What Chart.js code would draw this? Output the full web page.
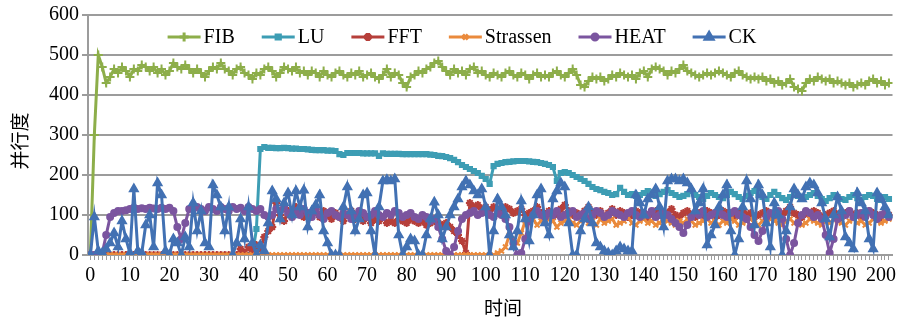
<!DOCTYPE html>
<html lang="zh">
<head>
  <meta charset="UTF-8" />
  <title>并行度</title>
  <script src="https://cdn.jsdelivr.net/npm/chart.js"></script>
  <style>
    html, body { margin: 0; padding: 0; background: #fff; }
    #chartBox { width: 899px; height: 321px; }
  </style>
</head>
<body>
  <div id="chartBox"><canvas id="parChart" width="899" height="321"></canvas></div>

  <script>
    // ==== DATA ====
    const seriesNames = ['FIB', 'LU', 'FFT', 'Strassen', 'HEAT', 'CK'];
    const timeTicks = [0, 10, 20, 30, 40, 50, 60, 70, 80, 90, 100, 110, 120, 130, 140, 150, 160, 170, 180, 190, 200];
    const valueTicks = [0, 100, 200, 300, 400, 500, 600];
    const xTitle = '时间';
    const yTitle = '并行度';

    const fib = [
      0, 300, 500, 470, 430, 445, 465, 455, 470, 460,
      445, 465, 460, 475, 470, 460, 470, 455, 465, 450,
      460, 480, 470, 465, 475, 465, 455, 465, 455, 445,
      460, 470, 465, 480, 465, 460, 450, 465, 470, 455,
      450, 440, 455, 450, 465, 470, 460, 445, 455, 470,
      465, 460, 470, 455, 460, 450, 460, 455, 445, 460,
      450, 445, 455, 460, 450, 445, 455, 450, 460, 445,
      450, 455, 445, 440, 450, 465, 445, 455, 450, 430,
      420, 445, 450, 460, 455, 465, 470, 480, 485, 470,
      460, 450, 465, 455, 460, 450, 465, 470, 455, 460,
      450, 445, 455, 450, 445, 455, 460, 450, 445, 455,
      450, 440, 450, 455, 445, 450, 445, 455, 460, 450,
      445, 455, 465, 450, 425, 420, 435, 445, 440, 445,
      435, 440, 450, 445, 455, 450, 445, 450, 440, 455,
      460, 445, 465, 470, 465, 460, 450, 460, 455, 465,
      475, 460, 455, 450, 445, 450, 455, 450, 455, 460,
      455, 450, 445, 455, 460, 450, 445, 440, 445, 440,
      445, 435, 440, 430, 435, 425, 430, 440, 420, 415,
      410, 430, 440, 435, 445, 440, 435, 440, 430, 435,
      430, 425, 430, 420, 425, 430, 425, 435, 440, 430,
      435, 425, 430
    ];
    const lu = [
      0, 0, 0, 0, 0, 0, 0, 0, 0, 0,
      0, 0, 0, 0, 0, 0, 0, 0, 0, 0,
      0, 0, 0, 0, 0, 0, 0, 0, 0, 0,
      0, 0, 0, 0, 0, 0, 0, 0, 0, 0,
      0, 0, 65, 265, 270, 268, 268, 267, 267, 268,
      267, 266, 266, 265, 265, 264, 263, 262, 262, 262,
      261, 261, 260, 252, 250, 255, 255, 255, 255, 254,
      254, 254, 254, 248, 254, 253, 253, 253, 253, 252,
      252, 252, 252, 252, 252, 252, 251, 250, 248, 247,
      245, 242, 238, 232, 225, 220, 215, 210, 205, 198,
      190, 178, 222, 228, 230, 232, 233, 234, 235, 235,
      235, 234, 233, 232, 230, 228, 225, 220, 185, 205,
      207, 205, 200, 195, 190, 185, 178, 170, 165, 162,
      158, 155, 150, 152, 168, 158, 150, 152, 148, 150,
      155, 160, 150, 148, 152, 158, 162, 155, 150, 145,
      148, 152, 160, 150, 145, 140, 148, 155, 150, 145,
      142, 150, 158, 152, 145, 140, 148, 155, 160, 150,
      145, 140, 150, 158, 150, 142, 138, 145, 152, 148,
      140, 145, 150, 155, 148, 140, 135, 142, 150, 145,
      140, 138, 145, 150, 142, 138, 145, 150, 148, 140,
      138, 145, 140
    ];
    const fft = [
      0, 0, 0, 0, 0, 0, 0, 0, 0, 0,
      0, 0, 0, 0, 0, 0, 0, 0, 0, 0,
      0, 0, 0, 0, 0, 0, 0, 0, 0, 0,
      0, 0, 0, 0, 0, 0, 0, 0, 15, 5,
      20, 10, 25, 15, 45, 60, 70, 130, 100, 85,
      110, 95, 120, 105, 95, 105, 100, 115, 95, 110,
      100, 90, 105, 95, 85, 100, 110, 90, 95, 85,
      95, 80, 90, 85, 95, 80, 85, 80, 90, 85,
      80, 90, 85, 80, 85, 75, 80, 85, 80, 75,
      80, 70, 60, 50, 35, 5, 130, 120, 125, 115,
      120, 110, 120, 115, 110, 120, 115, 105, 110, 115,
      100, 105, 110, 120, 105, 100, 110, 95, 105, 115,
      125, 110, 100, 105, 95, 110, 120, 105, 100, 110,
      95, 105, 115, 100, 110, 105, 95, 100, 110, 105,
      100, 95, 105, 110, 100, 95, 105, 115, 100, 95,
      105, 110, 100, 95, 105, 100, 110, 105, 95, 100,
      110, 105, 100, 95, 105, 110, 100, 105, 95, 100,
      105, 110, 100, 95, 105, 100, 110, 120, 105, 100,
      95, 105, 100, 110, 105, 95, 100, 105, 110, 100,
      95, 105, 110, 100, 105, 95, 100, 110, 105, 100,
      95, 105, 100
    ];
    const strassen = [
      0, 0, 0, 0, 0, 0, 0, 0, 0, 0,
      0, 0, 0, 0, 0, 0, 0, 0, 0, 0,
      0, 0, 0, 0, 0, 0, 0, 0, 0, 0,
      0, 0, 0, 0, 0, 0, 0, 0, 0, 0,
      0, 0, 0, 0, 0, 0, 0, 0, 0, 0,
      0, 0, 0, 0, 0, 0, 0, 0, 0, 0,
      0, 0, 0, 0, 0, 0, 0, 0, 0, 0,
      0, 0, 0, 0, 0, 0, 0, 0, 0, 0,
      0, 0, 0, 0, 0, 0, 0, 0, 0, 0,
      0, 0, 0, 0, 0, 0, 0, 0, 0, 0,
      0, 0, 0, 5, 10, 20, 50, 40, 30, 55,
      85, 80, 90, 75, 85, 80, 90, 85, 70, 80,
      85, 90, 80, 75, 85, 90, 80, 85, 75, 90,
      80, 85, 90, 75, 80, 85, 95, 80, 75, 85,
      90, 80, 85, 75, 80, 90, 85, 80, 75, 85,
      80, 90, 85, 75, 80, 85, 90, 80, 85, 75,
      85, 80, 90, 85, 75, 80, 85, 90, 80, 75,
      85, 80, 90, 85, 80, 75, 85, 90, 80, 85,
      75, 80, 90, 85, 80, 75, 85, 80, 90, 85,
      80, 75, 85, 90, 80, 85, 75, 80, 90, 85,
      80, 85, 90
    ];
    const heat = [
      0, 0, 0, 5, 50, 95, 105, 110, 110, 112,
      115, 118, 115, 117, 115, 118, 116, 115, 118, 115,
      118, 110, 70, 40, 80, 115, 115, 120, 115, 110,
      120, 115, 110, 120, 115, 110, 120, 115, 118, 110,
      120, 115, 110, 115, 100, 95, 100, 115, 110, 120,
      105, 95, 110, 100, 115, 105, 95, 110, 100, 90,
      105, 110, 100, 95, 105, 100, 90, 100, 110, 105,
      95, 100, 110, 100, 95, 105, 100, 110, 105, 95,
      100, 105, 95, 90, 100, 95, 85, 90, 70, 40,
      10, 0, 20, 60, 90, 100, 105, 110, 100, 105,
      110, 100, 95, 105, 100, 90, 70, 30, 0, 5,
      40, 85, 100, 110, 100, 95, 105, 100, 110, 95,
      100, 105, 110, 95, 100, 105, 90, 100, 110, 105,
      95, 100, 110, 105, 100, 95, 105, 110, 100, 95,
      105, 100, 110, 95, 100, 105, 100, 90, 80, 70,
      55, 75, 95, 105, 100, 110, 95, 100, 105, 110,
      100, 95, 105, 110, 100, 95, 90, 70, 50, 35,
      60, 95, 105, 100, 110, 90, 40, 0, 30, 80,
      100, 110, 105, 95, 100, 90, 50, 5, 40, 90,
      105, 100, 110, 95, 100, 105, 95, 110, 100, 90,
      100, 105, 95
    ];
    const ck = [
      0, 95, 10, 5, 15, 30, 55, 20, 85, 40,
      5, 165, 10, 5, 75, 100, 20, 180, 150, 10,
      0, 40, 30, 0, 45, 20, 130, 60, 110, 30,
      20, 175, 150, 120, 60, 120, 0, 30, 90, 40,
      120, 30, 0, 25, 10, 80, 160, 140, 90, 130,
      155, 100, 160, 120, 162, 70, 110, 125, 150, 60,
      30, 0, 0, 0, 120, 170, 110, 60, 90, 150,
      155, 60, 0, 120, 185, 188, 185, 190, 50, 0,
      20, 40, 35, 0, 0, 50, 90, 132, 100, 40,
      70, 100, 120, 140, 170, 185, 175, 160, 150, 165,
      120, 0, 60, 140, 120, 100, 50, 20, 60, 135,
      90, 35, 100, 150, 165, 80, 50, 140, 160, 180,
      170, 80, 0, 0, 60, 90, 120, 80, 30, 20,
      10, 5, 0, 10, 20, 15, 10, 10, 150, 130,
      100, 140, 150, 165, 120, 70, 185, 190, 190, 185,
      190, 180, 165, 110, 130, 165, 25, 50, 75, 120,
      150, 175, 60, 0, 40, 120, 185, 140, 75, 175,
      150, 80, 20, 130, 100, 0, 60, 120, 165, 150,
      140, 170, 180, 175, 155, 130, 90, 45, 100, 145,
      110, 45, 30, 15, 155, 130, 110, 40, 15, 155,
      140, 120, 100
    ];

    const seriesValues = [fib, lu, fft, strassen, heat, ck];
    const seriesColors = ['#8DAE4A', '#3D9DB4', '#B63F3A', '#EA8A3C', '#7B559F', '#4271B3'];
    const seriesMarkers = ['cross', 'rect', 'star', 'crossRot', 'circle', 'triangle'];
    const markerSizes = [4.5, 3, 4, 3.5, 3, 4.5];

    // x positions: one sample per time step
    const timeSteps = fib.map((_, i) => i);

    const serifFont = '"Liberation Serif", "Times New Roman", serif';
    const cjkFont = '"Noto Sans CJK SC", sans-serif';
    const gridGray = '#9c9c9c';

    // ==== LEGEND (line + marker + text, drawn inside the plot) ====
    const lineLegend = {
      id: 'lineLegend',
      afterDraw(chart) {
        const ctx = chart.ctx;
        const sets = chart.data.datasets;
        const lineW = 33, textGap = 3, itemGap = 27, centerX = 462, y = 37;
        ctx.save();
        ctx.font = '20px ' + serifFont;
        let total = itemGap * (sets.length - 1);
        sets.forEach(ds => { total += lineW + textGap + ctx.measureText(ds.label).width; });
        let x = centerX - total / 2;
        sets.forEach(ds => {
          ctx.strokeStyle = ds.borderColor;
          ctx.fillStyle = ds.borderColor;
          ctx.lineWidth = 3;
          ctx.beginPath();
          ctx.moveTo(x, y);
          ctx.lineTo(x + lineW, y);
          ctx.stroke();
          Chart.helpers.drawPoint(ctx, {
            pointStyle: ds.pointStyle, radius: ds.pointRadius, borderWidth: 2, rotation: 0
          }, x + lineW / 2, y);
          x += lineW + textGap;
          ctx.fillStyle = '#000';
          ctx.textAlign = 'left';
          ctx.textBaseline = 'middle';
          ctx.fillText(ds.label, x, y + 1);
          x += ctx.measureText(ds.label).width + itemGap;
        });
        ctx.restore();
      }
    };

    // ==== AXIS TITLES ====
    const axisTitles = {
      id: 'axisTitles',
      afterDraw(chart) {
        const ctx = chart.ctx;
        ctx.save();
        ctx.font = '19px ' + cjkFont;
        ctx.fillStyle = '#000';
        ctx.textAlign = 'center';
        ctx.textBaseline = 'middle';
        ctx.fillText(xTitle, 503, 308);
        ctx.translate(20, 141);
        ctx.rotate(-Math.PI / 2);
        ctx.fillText(yTitle, 0, 0);
        ctx.restore();
      }
    };

    const datasets = seriesNames.map((name, i) => ({
      label: name,
      data: seriesValues[i],
      borderColor: seriesColors[i],
      backgroundColor: seriesColors[i],
      pointBackgroundColor: seriesColors[i],
      pointBorderColor: seriesColors[i],
      pointStyle: seriesMarkers[i],
      pointRadius: markerSizes[i],
      pointBorderWidth: 2,
      borderWidth: 3,
      tension: 0,
      fill: false,
      order: seriesNames.length - i   // later series drawn on top, like the original
    }));

    new Chart(document.getElementById('parChart'), {
      type: 'line',
      data: { labels: timeSteps, datasets: datasets },
      options: {
        responsive: false,
        animation: false,
        devicePixelRatio: 1,
        layout: { padding: { left: 0, top: 15, right: 6, bottom: 0 } },
        plugins: {
          legend: { display: false },
          tooltip: { enabled: false }
        },
        scales: {
          x: {
            type: 'linear',
            min: -0.6,
            max: 202.9,
            afterBuildTicks: (s) => { s.ticks = timeSteps.map(v => ({ value: v })); },
            afterFit: (s) => { s.height = 66; },
            ticks: {
              autoSkip: false,
              maxRotation: 0,
              padding: 4,
              color: '#000',
              font: { family: serifFont, size: 20 },
              callback: (v) => timeTicks.includes(v) ? String(v) : ''
            },
            grid: { drawOnChartArea: false, drawTicks: true, tickLength: 5, color: gridGray, lineWidth: 1 },
            border: { display: true, color: gridGray, width: 2 }
          },
          y: {
            min: 0,
            max: 600,
            afterBuildTicks: (s) => { s.ticks = valueTicks.map(v => ({ value: v })); },
            afterFit: (s) => { s.width = 88; },
            ticks: {
              padding: 3,
              color: '#000',
              font: { family: serifFont, size: 20 }
            },
            grid: { color: gridGray, lineWidth: 2, drawTicks: true, tickLength: 6 },
            border: { display: true, color: gridGray, width: 2 }
          }
        }
      },
      plugins: [lineLegend, axisTitles]
    });
  </script>
</body>
</html>
